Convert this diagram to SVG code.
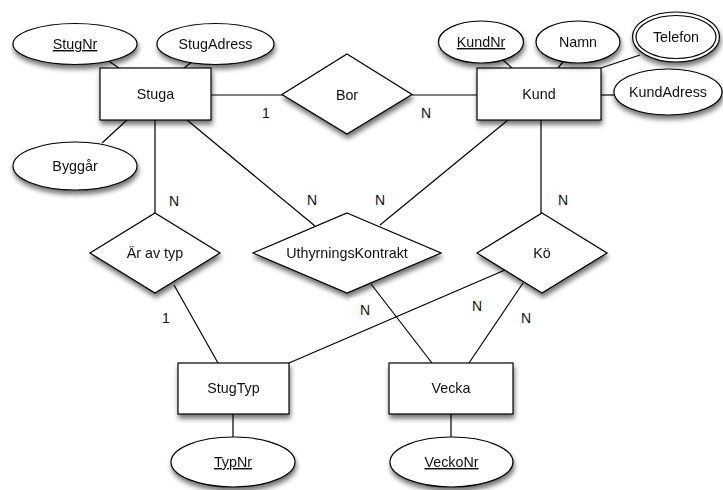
<svg xmlns="http://www.w3.org/2000/svg" width="723" height="490" viewBox="0 0 723 490">
<defs>
<filter id="sh" x="-20%" y="-20%" width="150%" height="160%">
<feDropShadow dx="1" dy="4" stdDeviation="2.6" flood-color="#000" flood-opacity="0.55"/>
</filter>
</defs>
<style>
.s{fill:#fff;stroke:#000;stroke-width:1.2}
.n{filter:url(#sh)}
.c line{stroke:#000;stroke-width:1.2}
text{font-family:"Liberation Sans",Arial,sans-serif;font-size:14.3px;fill:#111;text-anchor:middle}
.u{text-decoration:underline}
.l{font-size:14px}
</style>
<rect width="723" height="490" fill="#fff"/>
<g id="connectors" class="c">
<line x1="107" y1="60" x2="119" y2="68"/>
<line x1="192" y1="62" x2="184" y2="68"/>
<line x1="127" y1="120" x2="102" y2="143"/>
<line x1="211" y1="95" x2="283" y2="95"/>
<line x1="412" y1="95" x2="477" y2="95"/>
<line x1="503" y1="60" x2="512" y2="68"/>
<line x1="563" y1="62" x2="558" y2="68"/>
<line x1="640" y1="55" x2="601" y2="68"/>
<line x1="601" y1="95" x2="614" y2="95"/>
<line x1="155" y1="120" x2="155" y2="213"/>
<line x1="187" y1="120" x2="315" y2="226"/>
<line x1="508" y1="120" x2="380" y2="225"/>
<line x1="541" y1="120" x2="541" y2="213"/>
<line x1="174" y1="285" x2="218" y2="363"/>
<line x1="371" y1="284" x2="432" y2="363"/>
<line x1="505" y1="270" x2="289" y2="363"/>
<line x1="523" y1="283" x2="469" y2="363"/>
<line x1="233" y1="414" x2="233" y2="437"/>
<line x1="451" y1="414" x2="451" y2="437"/>
</g>
<g id="StugNr" class="n"><ellipse class="s" cx="75" cy="44" rx="62" ry="20.5"/><text class="u" x="75" y="49">StugNr</text></g>
<g id="StugAdress" class="n"><ellipse class="s" cx="215.5" cy="44" rx="58.5" ry="20.5"/><text x="215.5" y="49">StugAdress</text></g>
<g id="Stuga" class="n"><rect class="s" x="100" y="68" width="111" height="52"/><text x="155.5" y="99">Stuga</text></g>
<g id="Byggar" class="n"><ellipse class="s" cx="75" cy="166" rx="62" ry="24"/><text x="75" y="171">Byggår</text></g>
<g id="Bor" class="n"><polygon class="s" points="347,54 412,94.5 347,134 282,94.5"/><text x="347" y="100">Bor</text></g>
<g id="Kund" class="n"><rect class="s" x="477" y="68" width="124" height="52"/><text x="539" y="99">Kund</text></g>
<g id="KundNr" class="n"><ellipse class="s" cx="481" cy="42" rx="42.5" ry="21"/><text class="u" x="481" y="47">KundNr</text></g>
<g id="Namn" class="n"><ellipse class="s" cx="578" cy="42" rx="42" ry="21"/><text x="578" y="47">Namn</text></g>
<g id="Telefon" class="n"><ellipse class="s" cx="676" cy="37" rx="43.5" ry="25"/><ellipse class="s" cx="676" cy="37" rx="40" ry="21.5"/><text x="676" y="42">Telefon</text></g>
<g id="KundAdress" class="n"><ellipse class="s" cx="668" cy="92" rx="54" ry="23"/><text x="668" y="97">KundAdress</text></g>
<g id="ArAvTyp" class="n"><polygon class="s" points="155,213 220,253 155,293 90,253"/><text x="155" y="258">Är av typ</text></g>
<g id="UthyrningsKontrakt" class="n"><polygon class="s" points="347,213 441,253 347,293 253,253"/><text x="347" y="258">UthyrningsKontrakt</text></g>
<g id="Ko" class="n"><polygon class="s" points="542,213 607,253 542,293 477,253"/><text x="542" y="258">Kö</text></g>
<g id="StugTyp" class="n"><rect class="s" x="178" y="363" width="111" height="51"/><text x="233.5" y="393">StugTyp</text></g>
<g id="Vecka" class="n"><rect class="s" x="389" y="363" width="124" height="51"/><text x="451" y="393">Vecka</text></g>
<g id="TypNr" class="n"><ellipse class="s" cx="233" cy="462" rx="62" ry="25"/><text class="u" x="233" y="467">TypNr</text></g>
<g id="VeckoNr" class="n"><ellipse class="s" cx="451.5" cy="462" rx="61.5" ry="25"/><text class="u" x="451.5" y="467">VeckoNr</text></g>
<g id="labels">
<rect x="250" y="101" width="32" height="24" fill="#fff"/>
<text class="l" x="266" y="118">1</text>
<text class="l" x="426" y="118">N</text>
<text class="l" x="174" y="206">N</text>
<text class="l" x="312" y="205">N</text>
<text class="l" x="380" y="205">N</text>
<text class="l" x="563" y="205">N</text>
<text class="l" x="166" y="323">1</text>
<rect x="350" y="298" width="30" height="24" fill="#fff"/>
<text class="l" x="365" y="315">N</text>
<text class="l" x="477" y="311">N</text>
<text class="l" x="526" y="323">N</text>
</g>
</svg>
